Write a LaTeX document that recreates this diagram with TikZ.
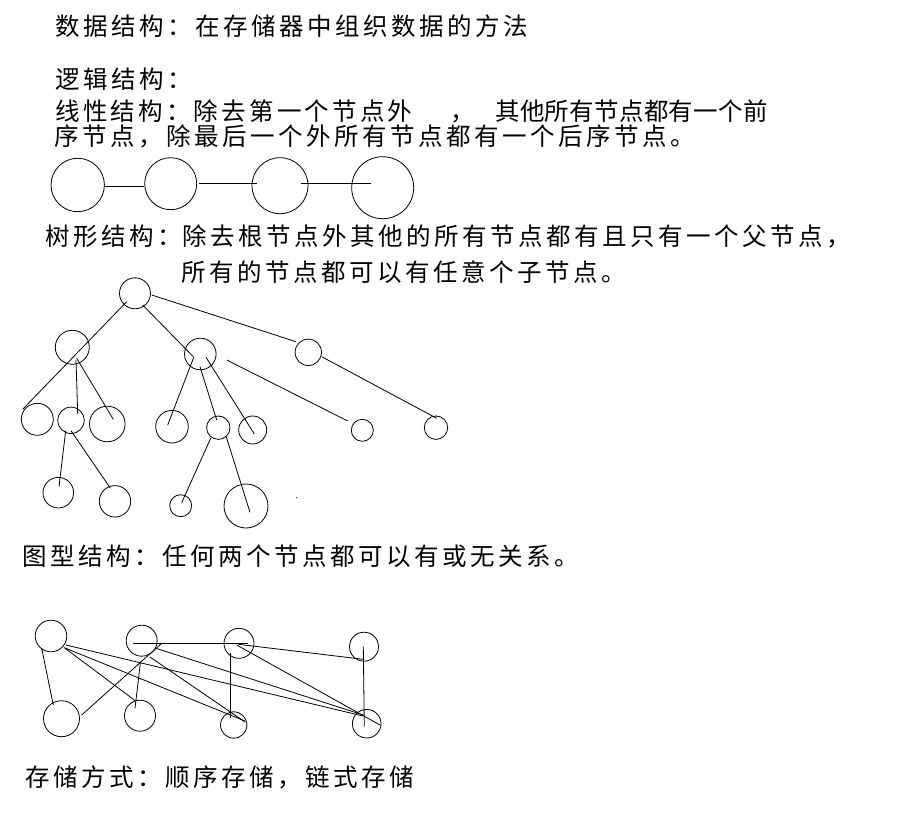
\documentclass[tikz,border=0pt]{standalone}
\usepackage{fontspec}
\setmainfont{Noto Sans CJK SC}[LetterSpace=14.3]
\newfontfamily\fB{Noto Sans CJK SC}[LetterSpace=13.1]
\newfontfamily\fC{Noto Sans CJK SC}[LetterSpace=1.2]
\newcommand\conn[4]{\draw ([shift={#2}]#1.center) -- ([shift={#4}]#3.center);}
\tikzset{
  nd/.style={circle,draw,inner sep=0pt,minimum size=2*#1pt,line width=0.8pt},
  txt/.style={anchor=base west,inner sep=0pt,font=\fontsize{24.5pt}{24.5pt}\selectfont},
}
\begin{document}
\begin{tikzpicture}[x=1pt,y=-1pt,line width=0.8pt]
\fill[white] (0,0) rectangle (921,813);
\useasboundingbox (0,0) rectangle (921,813);

% texts
\node[txt] (t1) at (55,35.3) {数据结构：在存储器中组织数据的方法};
\node[txt] (t2) at (55,88.3) {逻辑结构：};
\node[txt] (t3a) at (55,120.3) {\fB 线性结构：除去第一个节点外};
\node[txt] (t3b) at (450,120.3) {\fB ，};
\node[txt] (t3c) at (495,120.3) {\fC 其他所有节点都有一个前};
\node[txt] (t4) at (54,145.3) {序节点，除最后一个外所有节点都有一个后序节点。};
\node[txt] (t5) at (45,246) {树形结构：};
\node[txt] (t6) at (182,246) {除去根节点外其他的所有节点都有且只有一个父节点，};
\node[txt] (t7) at (181,281.3) {所有的节点都可以有任意个子节点。};
\node[txt] (t8) at (22,565.3) {图型结构：任何两个节点都可以有或无关系。};
\node[txt] (t9) at (25,786.3) {存储方式：顺序存储，链式存储};

% linear structure
\node[nd=26.7] (L1) at (77.7,185) {};
\node[nd=26] (L2) at (170.7,183.7) {};
\node[nd=28] (L3) at (280,185.7) {};
\node[nd=31] (L4) at (382.7,187.7) {};
\conn{L1}{(26.6,1)}{L2}{(-26.4,2.3)}
\conn{L2}{(28.6,0)}{L3}{(-23.3,-2)}
\conn{L3}{(21,-2)}{L4}{(-12,-4)}

% tree
\node[nd=15.5] (R) at (135,293.3) {};
\node[nd=17] (A) at (72.3,347.3) {};
\node[nd=15.8] (B) at (200.3,354) {};
\node[nd=13.2] (C) at (308.3,352.3) {};
\node[nd=16] (A1) at (37.3,419.3) {};
\node[nd=13.2] (A2) at (71,420.3) {};
\node[nd=17.8] (A3) at (107.3,424) {};
\node[nd=16.3] (B1) at (172,426.7) {};
\node[nd=11.7] (B2) at (218.3,427.7) {};
\node[nd=14] (B3) at (252.7,430) {};
\node[nd=11] (C1) at (362.3,430.3) {};
\node[nd=11.7] (C2) at (436,427.7) {};
\node[nd=15.3] (D1) at (58.3,492.7) {};
\node[nd=15.7] (D2) at (115,501.3) {};
\node[nd=11] (E1) at (180.7,505.7) {};
\node[nd=22] (E2) at (246,506) {};
\fill (296.7,497.7) circle (0.6);

\conn{R}{(-8.3,8.4)}{A1}{(-14.6,-10)}
\conn{R}{(7.7,11.7)}{B}{(-7,2.7)}
\conn{R}{(16.7,1.7)}{C}{(-12.3,-10.6)}
\conn{A}{(3.7,12.7)}{A2}{(6.7,-6.3)}
\conn{A}{(4.4,11)}{A3}{(6,-4.7)}
\conn{A2}{(-5.3,10.4)}{D1}{(0.7,-6)}
\conn{A2}{(0,10.4)}{D2}{(-5,-13.6)}
\conn{B}{(-6.3,2.7)}{B1}{(-4.3,-1.7)}
\conn{B}{(-0.3,12.7)}{B2}{(-1.6,-7.7)}
\conn{B}{(5.7,3.3)}{B3}{(1.6,4)}
\conn{B}{(26.4,6)}{C1}{(-14.6,-9.3)}
\conn{C}{(13.4,4.4)}{C2}{(0.7,-9.4)}
\conn{B2}{(-7.6,10.6)}{E1}{(1,-3)}
\conn{B2}{(7.7,8.3)}{E2}{(4,6.3)}

% graph
\node[nd=15.8] (g1) at (51,636) {};
\node[nd=15.5] (g2) at (141.7,640.7) {};
\node[nd=15] (g3) at (239,643.3) {};
\node[nd=14.5] (g4) at (364,646.7) {};
\node[nd=18] (h1) at (61.5,718.7) {};
\node[nd=15.5] (h2) at (140,715.7) {};
\node[nd=13.2] (h3) at (233.7,725) {};
\node[nd=14.3] (h4) at (366.7,723.7) {};

\conn{g1}{(-9.3,12.3)}{h1}{(-8.2,-13.7)}
\conn{h1}{(20.2,-3.7)}{g2}{(20,2.6)}
\conn{g1}{(13,11.5)}{h2}{(-5,-15.2)}
\conn{g1}{(14,12)}{h3}{(11.3,-4)}
\conn{g1}{(15,9)}{h4}{(-3.7,-7.7)}
\conn{g2}{(-8.4,2.8)}{g3}{(9.3,0.2)}
\conn{g2}{(-1.2,21)}{h2}{(-5,-7.4)}
\conn{g2}{(8.3,16.3)}{h3}{(11.3,-3)}
\conn{g2}{(14.3,7.6)}{h4}{(-3.4,-8.7)}
\conn{g3}{(-8.3,10)}{h3}{(-3,-6.7)}
\conn{g3}{(-0.7,1)}{g4}{(-0.7,12.6)}
\conn{g3}{(-2.3,1.7)}{h4}{(13.3,1.3)}
\conn{g4}{(-0.7,0)}{h4}{(-2.4,3)}
\end{tikzpicture}
\end{document}
